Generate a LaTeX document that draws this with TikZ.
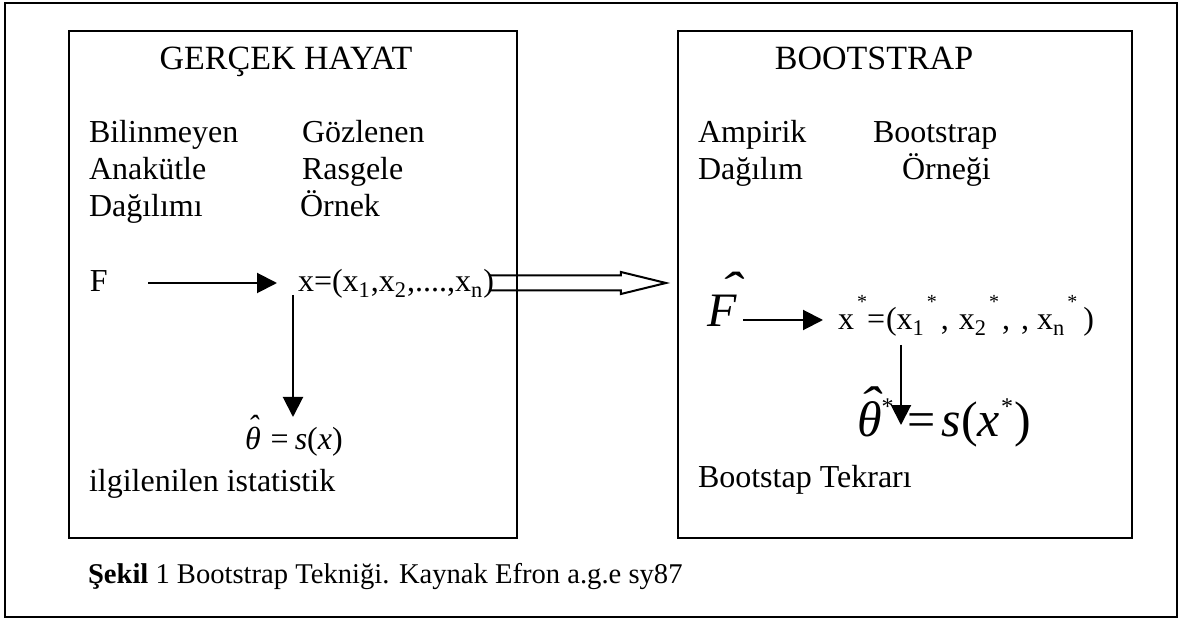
\documentclass[tikz,border=0pt]{standalone}
\usepackage{graphicx}
\usepackage{fontspec}
\setmainfont{Liberation Serif}
\usetikzlibrary{arrows.meta}
\newcommand\mystar[2]{\raisebox{#1}{\fontsize{#2}{#2}\selectfont *}}
\newcommand\myhat[4]{\rlap{\hspace{#1}\raisebox{#2}{\scalebox{#4}[1]{ˆ}}}#3}
\begin{document}
\begin{tikzpicture}[x=0.5pt,y=-0.5pt,
  txt/.style={inner sep=0pt, outer sep=0pt, anchor=base west, font=\fontsize{16}{19}\selectfont},
  ttl/.style={txt, anchor=base, font=\fontsize{17}{20}\selectfont},
  captxt/.style={txt, font=\fontsize{14.3}{17}\selectfont},
  bigF/.style={txt, font=\fontsize{24}{28}\selectfont},
  bigT/.style={txt, font=\fontsize{25}{29}\selectfont},
  box/.style={draw, line width=1.3pt, inner sep=0pt, outer sep=0pt},
  arr/.style={line width=1pt, -{Triangle[length=10pt,width=10pt]}},
  hollow/.style={line width=1pt, line join=miter},
]
\useasboundingbox (0,0) rectangle (1184,620);
\draw[line width=1pt] (5,3) rectangle (1177,617);

% boxes
\node[box, minimum width=224pt, minimum height=253.5pt] (L) at (293,284.5) {};
\node[box, minimum width=227pt, minimum height=253.5pt] (R) at (905,284.5) {};

% left box texts
\node[ttl] (t1) at (286,70) {GERÇEK HAYAT};
\node[txt] (a1) at (89,143) {Bilinmeyen};
\node[txt] (a2) at (89,180) {Anakütle};
\node[txt] (a3) at (89,217) {Dağılımı};
\node[txt] (b1) at (302,143) {Gözlenen};
\node[txt] (b2) at (302,180) {Rasgele};
\node[txt] (b3) at (300,217) {Örnek};
\node[txt] (F) at (90,292) {F};
\node[txt] (xs) at (298,292) {x=(x\textsubscript{1},x\textsubscript{2},....,x\textsubscript{n})};
\node[txt] (th) at (245,450) {{\itshape\myhat{0.08em}{0.38em}{θ}{1}}\hspace{5pt}=\hspace{3pt}\textit{s}(\textit{x})};
\node[txt] (ist) at (89,491) {ilgilenilen istatistik};

\draw[arr] ([shift={(58,-9)}]F.base west) -- ([shift={(-21,-9)}]xs.base west);
\draw[arr] ([shift={(-5,3)}]xs.base west) -- ([shift={(48,-33)}]th.base west);

% hollow arrow between the boxes
\coordinate (oa) at ([shift={(-5,-9)}]xs.base east);
\draw[hollow] (oa) ++(0,-7.5) -- ++(132,0) -- ++(0,-3.5) -- ++(45,11) -- ++(-45,11) -- ++(0,-3.5) -- ++(-132,0);

% right box texts
\node[ttl] (t2) at (874,70) {BOOTSTRAP};
\node[txt] (c1) at (698,143) {Ampirik};
\node[txt] (c2) at (698,180) {Dağılım};
\node[txt] (d1) at (873,143) {Bootstrap};
\node[txt] (d2) at (902,180) {Örneği};
\node[bigF] (Fh) at (707,327) {\itshape\myhat{0.26em}{0.45em}{F}{1.4}};
\node[txt] (xst) at (838,330) {x\kern1.5pt\mystar{0.68em}{10}=\kern0.5pt(x\textsubscript{1}\kern1pt\mystar{0.68em}{10}\kern2pt,\kern5pt x\textsubscript{2}\kern1pt\mystar{0.68em}{10}\kern1.5pt,\kern5.5pt,\kern4pt x\textsubscript{n}\kern1pt\mystar{0.68em}{10}\kern3pt)};
\node[bigT] (th2) at (857,437) {{\itshape\myhat{0.03em}{0.31em}{θ}{1.3}}\mystar{0.44em}{12}\kern7pt=\kern3pt\textit{s}(\textit{x}\kern0.5pt\mystar{0.44em}{12}\kern0.5pt)};
\node[txt] (bt) at (698,487) {Bootstap Tekrarı};

\draw[arr] ([shift={(36,-7)}]Fh.base west) -- ([shift={(-15,-10)}]xst.base west);
\draw[arr] ([shift={(63,15)}]xst.base west) -- ([shift={(44,-12)}]th2.base west);

% caption
\node[captxt] (cp) at (88,583) {\textbf{Şekil} 1 Bootstrap Tekniği. Kaynak Efron a.g.e sy87};
\end{tikzpicture}
\end{document}
